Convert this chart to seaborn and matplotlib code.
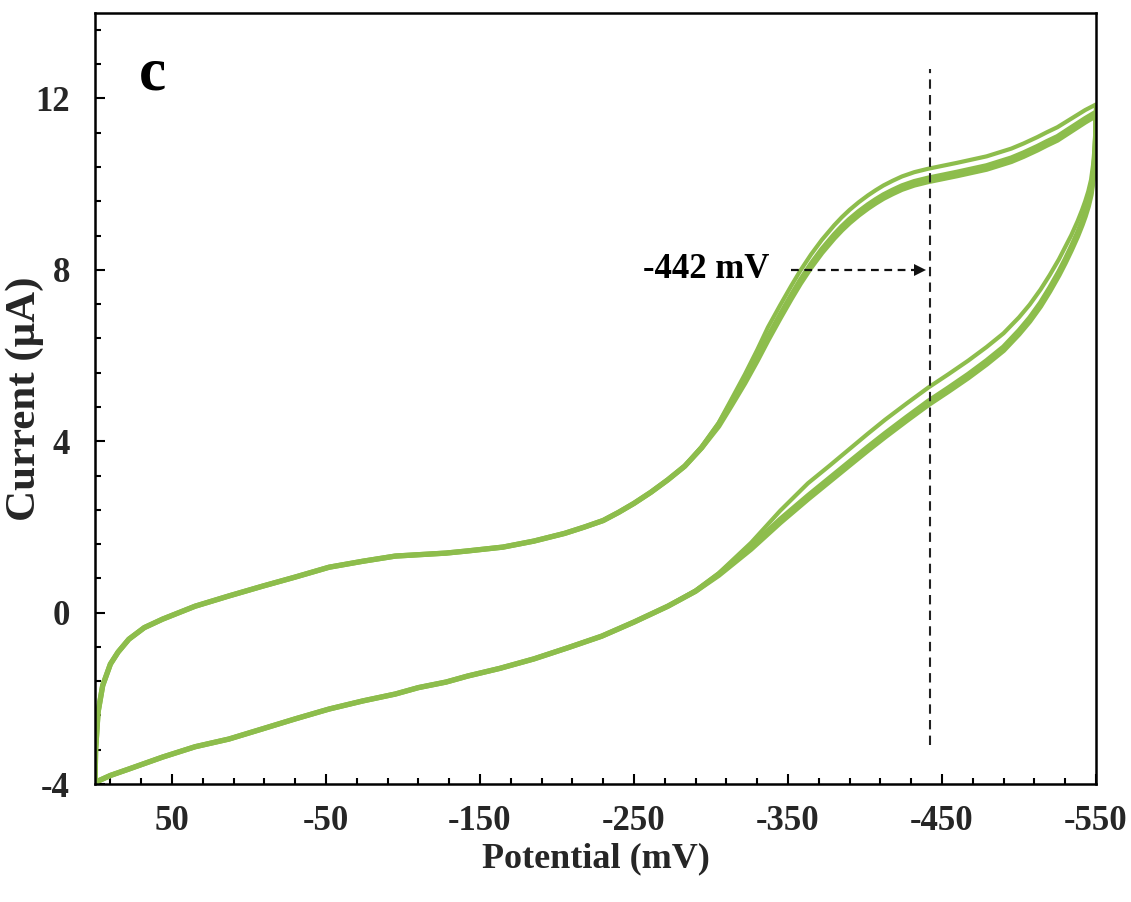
import numpy as np
import pandas as pd
import matplotlib
matplotlib.use("Agg")
import matplotlib.pyplot as plt
from matplotlib.ticker import MultipleLocator
import seaborn as sns

# Cyclic voltammogram, three consecutive scans (potential in mV, current in uA)
# Forward (cathodic) sweep: 100 mV -> -550 mV
fwd_potential = [100, 99.6, 98, 95, 90, 85, 78, 68, 56, 35,
                 13, -9, -30, -52, -74, -95, -128, -142, -165, -185,
                 -205, -218, -230, -240, -250, -261, -272, -283, -294, -305,
                 -313, -322, -330, -337, -345, -352, -358, -365, -372, -380,
                 -385, -390, -396, -402, -407, -412, -418, -424, -432, -441,
                 -460, -479, -495, -503, -512, -518, -525, -534, -543, -550]
fwd_scan1 = [-4.0, -3.2, -2.32, -1.70, -1.20, -0.92, -0.62, -0.35, -0.15, 0.15,
             0.39, 0.62, 0.83, 1.06, 1.20, 1.32, 1.39, 1.44, 1.53, 1.67,
             1.85, 2.00, 2.15, 2.34, 2.55, 2.81, 3.10, 3.42, 3.88, 4.43,
             4.96, 5.56, 6.13, 6.66, 7.18, 7.62, 7.98, 8.36, 8.70, 9.04,
             9.23, 9.40, 9.58, 9.74, 9.86, 9.97, 10.08, 10.18, 10.28, 10.36,
             10.50, 10.65, 10.83, 10.95, 11.10, 11.21, 11.33, 11.53, 11.73, 11.86]
fwd_scan2 = [-4.0, -3.2, -2.32, -1.70, -1.20, -0.92, -0.62, -0.35, -0.15, 0.15,
             0.39, 0.62, 0.83, 1.06, 1.20, 1.32, 1.39, 1.44, 1.53, 1.67,
             1.85, 2.00, 2.15, 2.34, 2.55, 2.81, 3.10, 3.42, 3.85, 4.40,
             4.89, 5.44, 5.96, 6.44, 6.96, 7.40, 7.76, 8.14, 8.48, 8.82,
             9.01, 9.18, 9.36, 9.52, 9.64, 9.75, 9.86, 9.96, 10.06, 10.14,
             10.28, 10.43, 10.61, 10.73, 10.88, 10.99, 11.11, 11.32, 11.53, 11.68]
fwd_scan3 = [-4.0, -3.2, -2.32, -1.70, -1.20, -0.92, -0.62, -0.35, -0.15, 0.15,
             0.39, 0.62, 0.83, 1.06, 1.20, 1.32, 1.39, 1.44, 1.53, 1.67,
             1.85, 2.00, 2.15, 2.34, 2.55, 2.81, 3.10, 3.42, 3.85, 4.35,
             4.82, 5.36, 5.88, 6.36, 6.88, 7.32, 7.68, 8.06, 8.40, 8.74,
             8.93, 9.10, 9.28, 9.44, 9.56, 9.67, 9.78, 9.88, 9.98, 10.06,
             10.20, 10.35, 10.53, 10.65, 10.80, 10.91, 11.03, 11.24, 11.45, 11.60]

# Reverse (anodic) sweep: -550 mV -> 100 mV
rev_potential = [-550, -549.8, -549.2, -548.2, -546.8, -545, -543, -541, -538, -534,
                 -530, -526, -520, -514, -507, -500, -490, -479, -467, -454,
                 -441, -427, -413, -402, -391, -377, -363, -345, -326, -305,
                 -290, -272, -250, -229, -207, -185, -163, -142, -128, -110,
                 -95, -74, -52, -30, -9, 13, 35, 56, 78, 90,
                 98, 100]
rev_scan1 = [11.86, 11.40, 10.90, 10.47, 10.10, 9.83, 9.60, 9.40, 9.13, 8.81,
             8.53, 8.25, 7.88, 7.54, 7.19, 6.89, 6.52, 6.20, 5.88, 5.56,
             5.25, 4.88, 4.50, 4.18, 3.85, 3.43, 3.02, 2.38, 1.63, 0.92,
             0.52, 0.15, -0.22, -0.55, -0.82, -1.08, -1.30, -1.48, -1.62, -1.75,
             -1.90, -2.06, -2.25, -2.48, -2.71, -2.95, -3.13, -3.37, -3.65, -3.80,
             -3.93, -4.00]
rev_scan2 = [11.68, 11.13, 10.63, 10.20, 9.83, 9.56, 9.33, 9.13, 8.86, 8.54,
             8.24, 7.96, 7.58, 7.23, 6.88, 6.58, 6.20, 5.88, 5.56, 5.24,
             4.93, 4.56, 4.18, 3.87, 3.55, 3.14, 2.73, 2.18, 1.54, 0.90,
             0.50, 0.15, -0.22, -0.55, -0.82, -1.08, -1.30, -1.48, -1.62, -1.75,
             -1.90, -2.06, -2.25, -2.48, -2.71, -2.95, -3.13, -3.37, -3.65, -3.80,
             -3.93, -4.00]
rev_scan3 = [11.60, 11.05, 10.55, 10.12, 9.75, 9.48, 9.25, 9.05, 8.78, 8.46,
             8.16, 7.88, 7.50, 7.15, 6.80, 6.50, 6.12, 5.80, 5.48, 5.16,
             4.85, 4.48, 4.10, 3.79, 3.47, 3.06, 2.65, 2.10, 1.48, 0.87,
             0.50, 0.15, -0.22, -0.55, -0.82, -1.08, -1.30, -1.48, -1.62, -1.75,
             -1.90, -2.06, -2.25, -2.48, -2.71, -2.95, -3.13, -3.37, -3.65, -3.80,
             -3.93, -4.00]

x_ticks = [50, -50, -150, -250, -350, -450, -550]
x_tick_labels = ["50", "-50", "-150", "-250", "-350", "-450", "-550"]
y_ticks = [-4, 0, 4, 8, 12]
y_tick_labels = ["-4", "0", "4", "8", "12"]

peak_potential = -442   # marked reduction peak, mV
peak_label = "-442 mV"
arrow_start = -352
arrow_current = 8

green = "#8dbd4c"

# Long-form table: one row per sample, in scan order
rows = []
scans = {1: (fwd_scan1, rev_scan1), 2: (fwd_scan2, rev_scan2), 3: (fwd_scan3, rev_scan3)}
for scan, (fwd, rev) in scans.items():
    pot = list(fwd_potential) + list(rev_potential)
    cur = list(fwd) + list(rev)
    for i, (p, c) in enumerate(zip(pot, cur)):
        rows.append({"scan": scan, "step": i, "potential": p, "current": c})
cv = pd.DataFrame(rows)

sns.set_style("ticks")
plt.rcParams["font.family"] = ["Liberation Serif", "DejaVu Serif"]
plt.rcParams["font.weight"] = "bold"
plt.rcParams["axes.unicode_minus"] = False

fig = plt.figure(figsize=(11.31, 9.02), dpi=100)
ax = fig.add_axes([0.084, 0.1308, 0.885, 0.855])

widths = {1: 3.0, 2: 3.8, 3: 3.8}
for scan in [1, 2, 3]:
    sub = cv[cv["scan"] == scan]
    sns.lineplot(data=sub, x="potential", y="current", sort=False, estimator=None,
                 color=green, lw=widths[scan], ax=ax, legend=False)

# Peak marker: vertical dashed line and dashed arrow with label
ax.plot([peak_potential, peak_potential], [-3.1, 12.7], color="#222222", lw=1.5,
        ls=(0, (4.5, 3)))
ax.plot([arrow_start, peak_potential + 8], [arrow_current, arrow_current],
        color="#111111", lw=1.6, ls=(0, (3.5, 2.5)))
ax.plot([peak_potential + 6], [arrow_current], marker=">", color="#111111",
        markersize=9, markeredgewidth=0)
ax.text(arrow_start + 14, arrow_current, peak_label, ha="right", va="center",
        fontsize=25, fontweight="bold", color="black")

ax.text(0.044, 0.90, "c", transform=ax.transAxes, ha="left", va="baseline",
        fontsize=44, fontweight="bold", color="black")

ax.set_xlim(100, -550)
ax.set_ylim(-4, 14)
ax.set_xticks(x_ticks)
ax.set_xticklabels(x_tick_labels)
ax.set_yticks(y_ticks)
ax.set_yticklabels(y_tick_labels)
ax.xaxis.set_minor_locator(MultipleLocator(20, offset=10))
ax.yaxis.set_minor_locator(MultipleLocator(0.8))

ax.tick_params(which="both", direction="in", top=False, right=False, color="black",
               width=1.5)
ax.tick_params(which="major", length=7.5)
ax.tick_params(which="minor", length=4.5)
ax.tick_params(axis="x", which="major", pad=15, labelsize=25)
ax.tick_params(axis="y", which="major", pad=18, labelsize=25)
for lab in ax.get_xticklabels() + ax.get_yticklabels():
    lab.set_fontweight("bold")

for side in ["left", "right", "top", "bottom"]:
    ax.spines[side].set_visible(True)
    ax.spines[side].set_linewidth(1.8)
    ax.spines[side].set_color("black")

ax.set_xlabel("Potential (mV)", fontsize=26, fontweight="bold")
ax.set_ylabel("Current (\u03bcA)", fontsize=31, fontweight="bold")
ax.xaxis.set_label_coords(0.5, -0.076)
ax.yaxis.set_label_coords(-0.051, 0.5)

fig.savefig("out.png", dpi=100)
